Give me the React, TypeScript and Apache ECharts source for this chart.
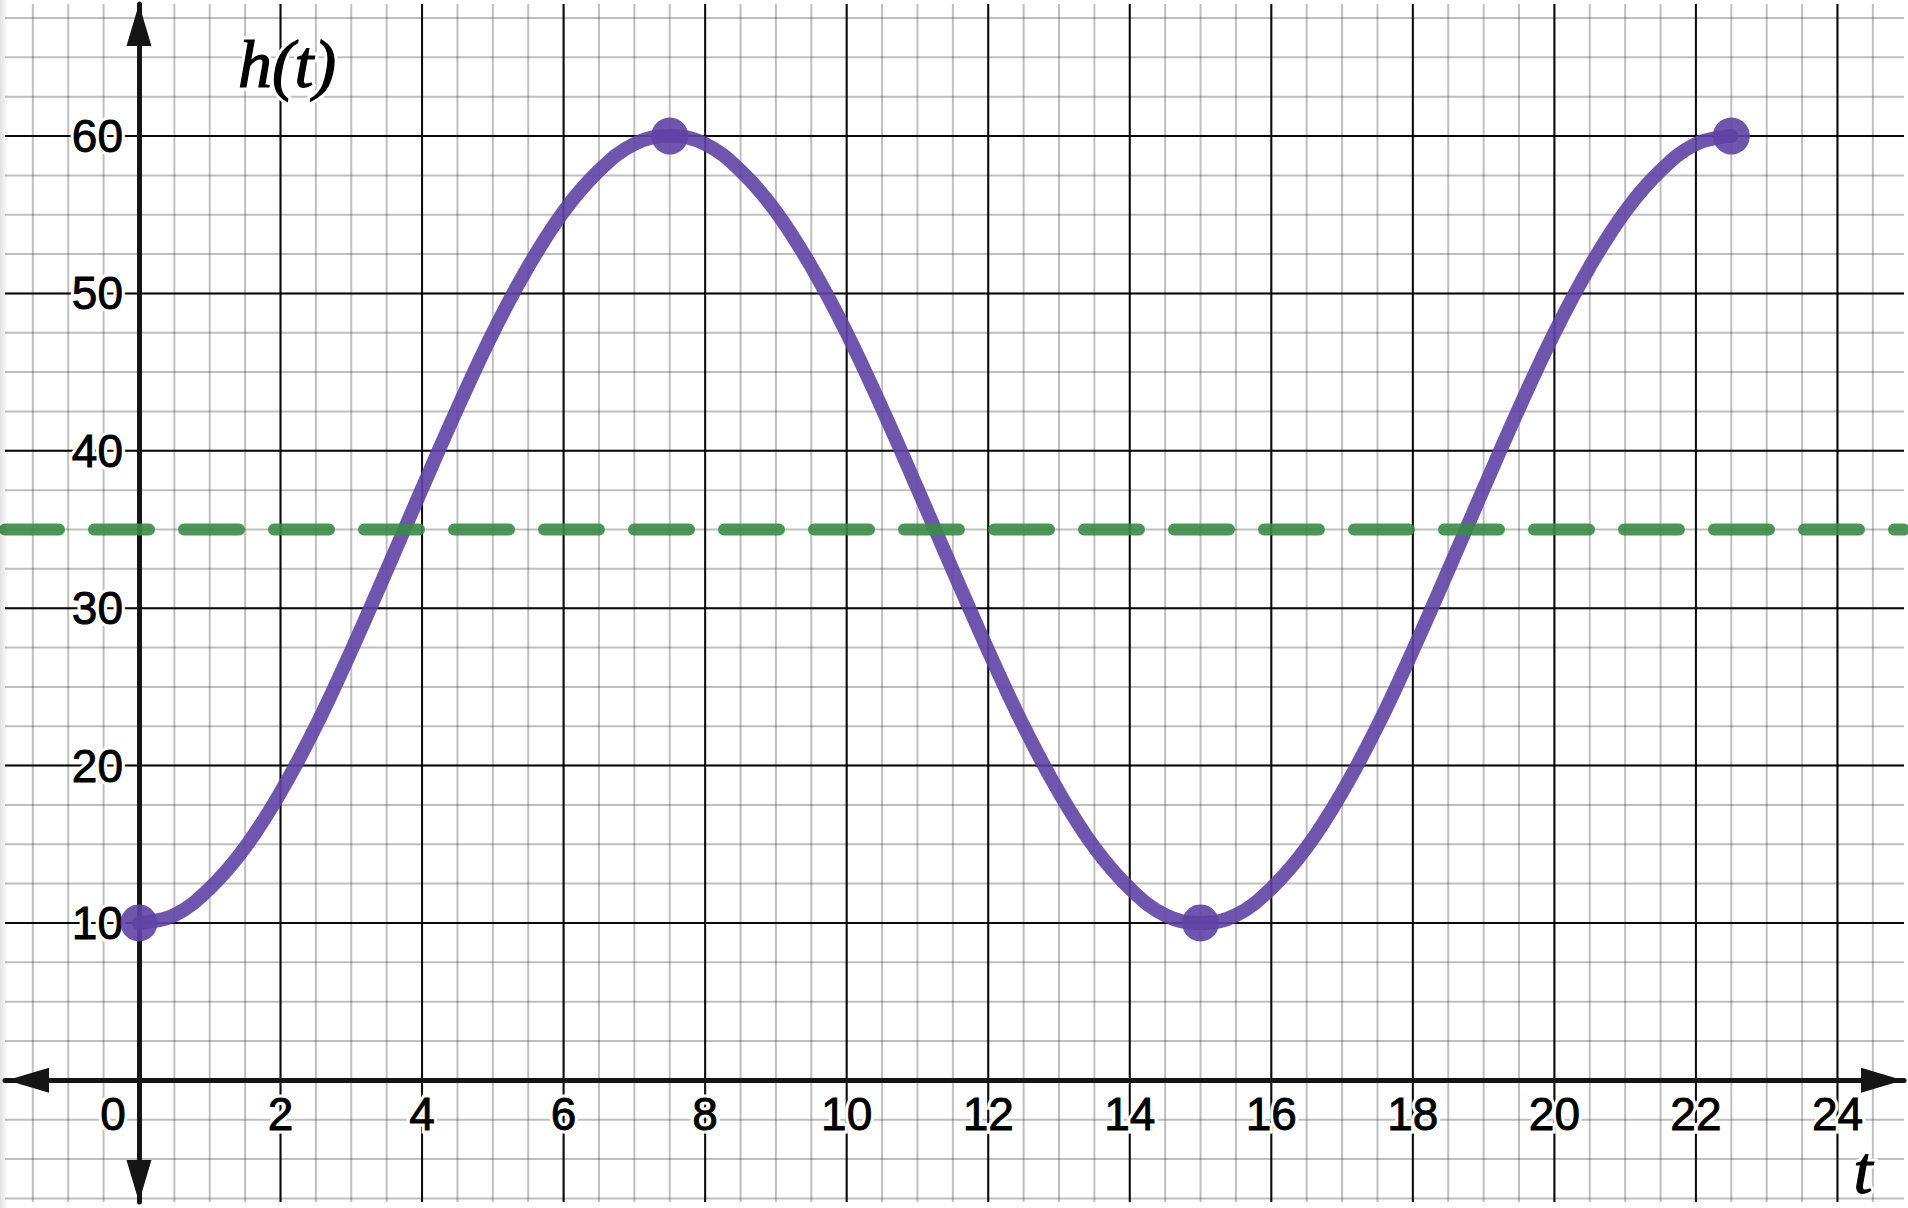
import React, { useEffect, useRef } from "react";
import * as echarts from "echarts";

// ---- data ----
const T = [
  0, 0.5, 1, 1.5, 2, 2.5, 3, 3.5, 4, 4.5, 5, 5.5, 6, 6.5, 7, 7.5, 8, 8.5, 9, 9.5,
  10, 10.5, 11, 11.5, 12, 12.5, 13, 13.5, 14, 14.5, 15, 15.5, 16, 16.5, 17, 17.5,
  18, 18.5, 19, 19.5, 20, 20.5, 21, 21.5, 22, 22.5,
];
const H = [
  10.0, 10.5, 12.2, 14.8, 18.3, 22.5, 27.3, 32.4, 37.6, 42.7, 47.5, 51.7, 55.2, 57.8, 59.5, 60.0,
  59.5, 57.8, 55.2, 51.7, 47.5, 42.7, 37.6, 32.4, 27.3, 22.5, 18.3, 14.8, 12.2, 10.5, 10.0,
  10.5, 12.2, 14.8, 18.3, 22.5, 27.3, 32.4, 37.6, 42.7, 47.5, 51.7, 55.2, 57.8, 59.5, 60.0,
];
const POINT_T = [0, 7.5, 15, 22.5];
const POINT_H = [10, 60, 10, 60];
const MIDLINE = 35;

const X_TICKS = [0, 2, 4, 6, 8, 10, 12, 14, 16, 18, 20, 22, 24];
const X_LABELS = ["0", "2", "4", "6", "8", "10", "12", "14", "16", "18", "20", "22", "24"];
const Y_TICKS = [10, 20, 30, 40, 50, 60];
const Y_LABELS = ["10", "20", "30", "40", "50", "60"];

const X_MIN = -1.893;
const X_MAX = 24.94;
const Y_MIN = -7.73;
const Y_MAX = 68.39;

// grid line positions (every 0.5 in t, every 2.5 in h; majors every 2 and 10)
const X_MINOR: number[] = [];
for (let v = -1.5; v <= 24.5 + 1e-9; v += 0.5) X_MINOR.push(v);
const Y_MINOR: number[] = [];
for (let v = -7.5; v <= 67.5 + 1e-9; v += 2.5) Y_MINOR.push(v);
const X_MAJOR = [-2, 0, 2, 4, 6, 8, 10, 12, 14, 16, 18, 20, 22, 24].filter((v) => v > X_MIN && v < X_MAX);
const Y_MAJOR = [0, 10, 20, 30, 40, 50, 60];

const PURPLE = "#6042a6";
const GREEN = "#388c46";
const LABEL_FONT = '46px "Liberation Sans", Arial, sans-serif';
const TITLE_FONT = 'italic 68px "Liberation Serif", "Times New Roman", serif';

function gridLines(vals: number[], vertical: boolean, color: string, width: number, z: number) {
  return {
    type: "custom",
    coordinateSystem: "cartesian2d",
    silent: true,
    z,
    data: vals.map((v) => (vertical ? [v, 0] : [0, v])),
    renderItem: (params: any, api: any) => {
      const cs = params.coordSys;
      if (vertical) {
        const x = api.coord([api.value(0), 0])[0];
        return {
          type: "line",
          shape: { x1: x, y1: cs.y, x2: x, y2: cs.y + cs.height },
          style: { stroke: color, lineWidth: width },
        };
      }
      const y = api.coord([0, api.value(1)])[1];
      return {
        type: "line",
        shape: { x1: cs.x, y1: y, x2: cs.x + cs.width, y2: y },
        style: { stroke: color, lineWidth: width },
      };
    },
  };
}

// text with a white halo underneath (halo layer + fill layer)
function haloText(x: number, y: number, text: string, font: string, align: string, bold: number) {
  return [
    {
      type: "text",
      x,
      y,
      silent: true,
      style: { text, font, align, verticalAlign: "middle", fill: "#fff", stroke: "#fff", lineWidth: 7 },
    },
    {
      type: "text",
      x,
      y,
      silent: true,
      style: { text, font, align, verticalAlign: "middle", fill: "#000", stroke: "#000", lineWidth: bold },
    },
  ];
}

export default function App() {
  const ref = useRef<HTMLDivElement>(null);

  useEffect(() => {
    if (!ref.current) return;
    const chart = echarts.init(ref.current, undefined, { renderer: "svg" });

    const axisCommon = {
      type: "value",
      splitLine: { show: false },
      axisTick: { show: false },
      axisLabel: { show: false },
      z: 2,
      axisLine: {
        show: true,
        onZero: true,
        symbol: ["triangle", "triangle"],
        symbolSize: [25, 42],
        lineStyle: { color: "#151515", width: 5 },
      },
    };

    const titleEls = [
      ...haloText(287, 64, "h(t)", TITLE_FONT, "center", 1.2),
      ...haloText(1863, 1170, "t", TITLE_FONT, "center", 1.2),
    ].map((el) => ({ ...el, z: 10 }));

    chart.setOption({
      animation: false,
      backgroundColor: "#ffffff",
      grid: { left: 5, right: 4, top: 4, bottom: 6, containLabel: false },
      xAxis: {
        ...axisCommon,
        min: X_MIN,
        max: X_MAX,
        axisLine: { ...axisCommon.axisLine, symbolOffset: [23, -22] },
      },
      yAxis: {
        ...axisCommon,
        min: Y_MIN,
        max: Y_MAX,
        axisLine: { ...axisCommon.axisLine, symbolOffset: [21, -21] },
      },
      graphic: [
        {
          type: "rect",
          silent: true,
          z: 20,
          shape: { x: 0, y: 0, width: 8, height: 1208 },
          style: {
            fill: new echarts.graphic.LinearGradient(0, 0, 1, 0, [
              { offset: 0, color: "rgba(0,0,0,0.12)" },
              { offset: 1, color: "rgba(0,0,0,0)" },
            ]),
          },
        },
        ...titleEls,
      ],
      series: [
        gridLines(X_MINOR, true, "rgba(0,0,0,0.25)", 2, 0),
        gridLines(Y_MINOR, false, "rgba(0,0,0,0.25)", 2, 0),
        gridLines(X_MAJOR, true, "rgba(0,0,0,0.95)", 2, 1),
        gridLines(Y_MAJOR, false, "rgba(0,0,0,0.95)", 2, 1),
        {
          type: "custom",
          coordinateSystem: "cartesian2d",
          silent: true,
          z: 3,
          data: Y_TICKS.map((v) => [0, v]),
          renderItem: (params: any, api: any) => {
            const p = api.coord([0, api.value(1)]);
            return {
              type: "group",
              children: haloText(p[0] - 16, p[1], Y_LABELS[params.dataIndex], LABEL_FONT, "right", 0.9),
            };
          },
        },
        {
          type: "custom",
          coordinateSystem: "cartesian2d",
          silent: true,
          z: 3,
          data: X_TICKS.map((v) => [v, 0]),
          renderItem: (params: any, api: any) => {
            const p = api.coord([api.value(0), 0]);
            const dx = api.value(0) === 0 ? -26 : 0;
            return {
              type: "group",
              children: haloText(p[0] + dx, p[1] + 34, X_LABELS[params.dataIndex], LABEL_FONT, "center", 0.9),
            };
          },
        },
        {
          type: "line",
          z: 4,
          silent: true,
          data: T.map((t, i) => [t, H[i]]),
          smooth: 0.4,
          showSymbol: false,
          lineStyle: { color: PURPLE, width: 14, opacity: 0.9, cap: "round", join: "round" },
        },
        {
          type: "line",
          z: 5,
          silent: true,
          data: [
            [X_MIN, MIDLINE],
            [X_MAX, MIDLINE],
          ],
          showSymbol: false,
          lineStyle: {
            color: GREEN,
            width: 12,
            opacity: 0.9,
            type: [55, 35],
            dashOffset: 1,
            cap: "round",
          },
        },
        {
          type: "scatter",
          z: 6,
          silent: true,
          data: POINT_T.map((t, i) => [t, POINT_H[i]]),
          symbolSize: 37,
          itemStyle: { color: PURPLE, opacity: 0.9 },
        },
      ],
    });

    return () => chart.dispose();
  }, []);

  return (
    <div
      ref={ref}
      style={{ position: "absolute", left: 0, top: 0, width: 1908, height: 1208 }}
    />
  );
}
